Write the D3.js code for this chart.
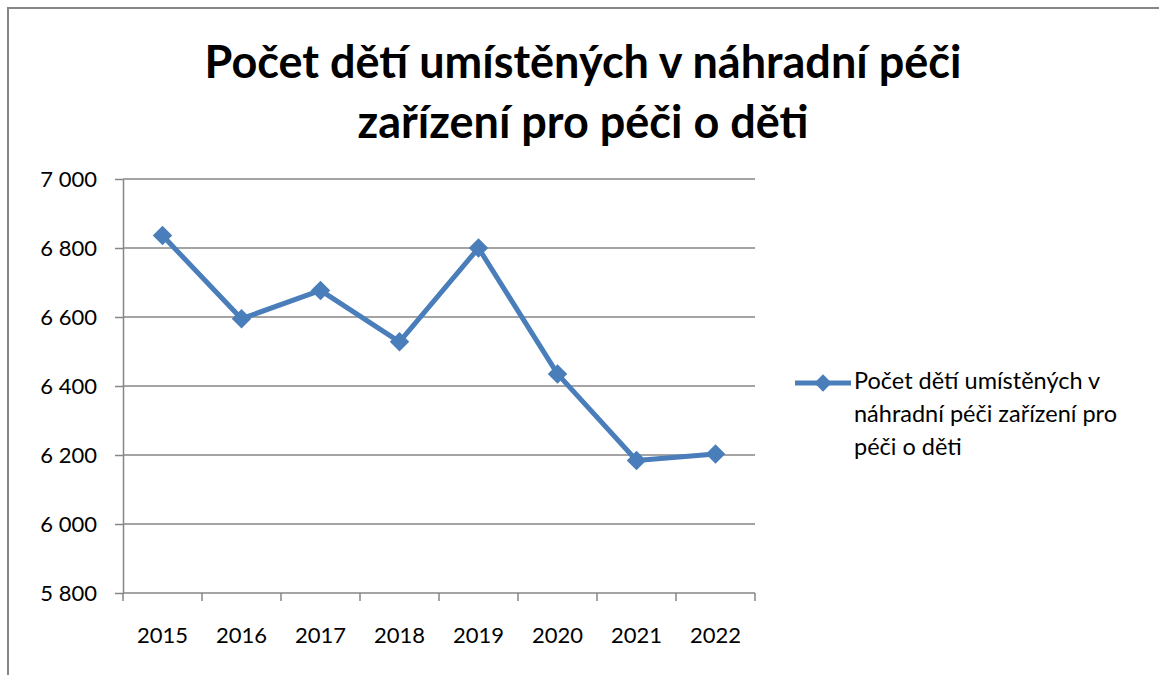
<!DOCTYPE html>
<html>
<head>
<meta charset="utf-8">
<script src="https://cdn.jsdelivr.net/npm/d3@7"></script>
<style>
  body { margin: 0; background: #fff; }
  svg { display: block; font-family: Lato, "Open Sans", sans-serif; }
</style>
</head>
<body>
<div class="chart"></div>
<script>
// data
const years = ['2015', '2016', '2017', '2018', '2019', '2020', '2021', '2022'];
const counts = [6836, 6595, 6677, 6528, 6800, 6435, 6184, 6203];
const yTicks = [5800, 6000, 6200, 6400, 6600, 6800, 7000];
const titleLines = ['Počet dětí umístěných v náhradní péči', 'zařízení pro péči o děti'];
const legendLines = ['Počet dětí umístěných v', 'náhradní péči zařízení pro', 'péči o děti'];

const svg_width = 1159;
const svg_height = 675;
const margin = { top: 179, right: 404, bottom: 82, left: 123 };
const chart_width = svg_width - margin.left - margin.right;
const chart_height = svg_height - margin.top - margin.bottom;
const blue = '#4a7ebb';

const svg = d3.select('.chart').append('svg')
    .attr('width', svg_width).attr('height', svg_height);

// outer frame (goes off the right and bottom edge)
svg.append('rect')
    .attr('x', 8).attr('y', 8)
    .attr('width', svg_width + 20).attr('height', svg_height + 20)
    .attr('fill', 'none').attr('stroke', '#868686').attr('stroke-width', 2);

// title
svg.append('g').selectAll('text').data(titleLines).enter()
    .append('text')
    .attr('x', 583).attr('y', (d, i) => 78 + i * 60)
    .attr('text-anchor', 'middle')
    .style('font-size', '45px').style('font-weight', 'bold').style('fill', '#000')
    .text(d => d);

const g = svg.append('g').attr('transform', `translate(${margin.left},${margin.top})`);

const xScale = d3.scaleBand().domain(years).range([0, chart_width]);
const yScale = d3.scaleLinear().domain([5800, 7000]).range([chart_height, 0]);

const fmt = v => d3.format(',')(v).replace(',', ' ');

// gridlines
g.append('g').selectAll('line').data(yTicks.slice(1)).enter()
    .append('line')
    .attr('x1', 0).attr('x2', chart_width)
    .attr('y1', d => yScale(d)).attr('y2', d => yScale(d))
    .attr('stroke', '#868686').attr('stroke-width', 1.5);

// y axis
const yAxis = d3.axisLeft(yScale).tickValues(yTicks).tickFormat(fmt)
    .tickSizeInner(8).tickSizeOuter(0).tickPadding(18);
const yAxisDraw = g.append('g').call(yAxis);
yAxisDraw.select('.domain').attr('stroke', '#868686').attr('stroke-width', 1.5);
yAxisDraw.selectAll('.tick line').attr('stroke', '#868686').attr('stroke-width', 1.5);
yAxisDraw.selectAll('text').style('font-size', '22px').style('fill', '#000')
    .style('font-family', 'Lato, "Open Sans", sans-serif');

// x axis: ticks between categories
const xAxisG = g.append('g').attr('transform', `translate(0,${chart_height})`);
xAxisG.append('line').attr('x1', 0).attr('x2', chart_width)
    .attr('stroke', '#868686').attr('stroke-width', 1.5);
xAxisG.selectAll('.xtick').data(d3.range(years.length + 1)).enter()
    .append('line').attr('class', 'xtick')
    .attr('x1', i => i * xScale.step()).attr('x2', i => i * xScale.step())
    .attr('y1', 0).attr('y2', 8)
    .attr('stroke', '#868686').attr('stroke-width', 1.5);
xAxisG.selectAll('.xlabel').data(years).enter()
    .append('text').attr('class', 'xlabel')
    .attr('x', d => xScale(d) + xScale.bandwidth() / 2).attr('y', 50)
    .attr('text-anchor', 'middle')
    .style('font-size', '22px').style('fill', '#000')
    .text(d => d);

// line + markers
const line = d3.line()
    .x((d, i) => xScale(years[i]) + xScale.bandwidth() / 2)
    .y(d => yScale(d));

g.append('path').datum(counts)
    .attr('d', line)
    .attr('fill', 'none').attr('stroke', blue).attr('stroke-width', 5)
    .attr('stroke-linejoin', 'round');

g.selectAll('.marker').data(counts).enter()
    .append('path').attr('class', 'marker')
    .attr('transform', (d, i) => `translate(${xScale(years[i]) + xScale.bandwidth() / 2},${yScale(d)}) rotate(45)`)
    .attr('d', d3.symbol().type(d3.symbolSquare).size(190))
    .attr('fill', blue);

// legend
const legend = svg.append('g').attr('transform', 'translate(795,383)');
legend.append('line').attr('x1', 0).attr('x2', 56)
    .attr('stroke', blue).attr('stroke-width', 5);
legend.append('path').attr('transform', 'translate(28,0) rotate(45)')
    .attr('d', d3.symbol().type(d3.symbolSquare).size(150))
    .attr('fill', blue);
legend.selectAll('text').data(legendLines).enter()
    .append('text')
    .attr('x', 59).attr('y', (d, i) => 6 + i * 33)
    .style('font-size', '23.5px').style('fill', '#000')
    .text(d => d);
</script>
</body>
</html>
